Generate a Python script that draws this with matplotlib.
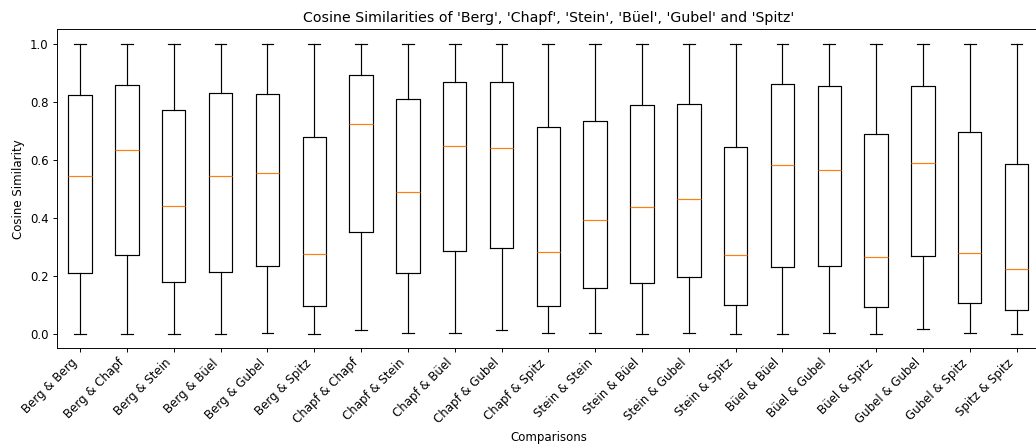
import matplotlib
matplotlib.use("Agg")
import matplotlib.pyplot as plt

labels = ["Berg & Berg", "Berg & Chapf", "Berg & Stein", "Berg & Büel", "Berg & Gubel",
          "Berg & Spitz", "Chapf & Chapf", "Chapf & Stein", "Chapf & Büel", "Chapf & Gubel",
          "Chapf & Spitz", "Stein & Stein", "Stein & Büel", "Stein & Gubel", "Stein & Spitz",
          "Büel & Büel", "Büel & Gubel", "Büel & Spitz", "Gubel & Gubel", "Gubel & Spitz",
          "Spitz & Spitz"]
medians = [0.543, 0.632, 0.442, 0.543, 0.555, 0.275, 0.725, 0.489, 0.648, 0.640, 0.283,
           0.393, 0.437, 0.466, 0.272, 0.582, 0.566, 0.263, 0.590, 0.280, 0.223]
q1 = [0.210, 0.271, 0.177, 0.214, 0.234, 0.097, 0.352, 0.210, 0.284, 0.295, 0.097,
      0.158, 0.174, 0.195, 0.100, 0.230, 0.234, 0.093, 0.267, 0.105, 0.081]
q3 = [0.822, 0.859, 0.771, 0.831, 0.826, 0.677, 0.891, 0.810, 0.868, 0.868, 0.714,
      0.734, 0.789, 0.794, 0.645, 0.863, 0.854, 0.688, 0.854, 0.696, 0.587]
whislo = [0.0, 0.0, 0.0, 0.0, 0.004, 0.0, 0.012, 0.004, 0.004, 0.012, 0.004,
          0.004, 0.0, 0.004, 0.0, 0.0, 0.004, 0.0, 0.015, 0.004, 0.0]
whishi = [1.0] * 21

stats = [dict(med=m, q1=a, q3=b, whislo=lo, whishi=hi, fliers=[], label=l)
         for l, m, a, b, lo, hi in zip(labels, medians, q1, q3, whislo, whishi)]

DPI = 85
fig = plt.figure(figsize=(1036 / DPI, 446 / DPI), dpi=DPI)
ax = fig.add_axes([56.7 / 1036, 1 - 348.2 / 446, (1040 - 56.7) / 1036, (348.2 - 29.3) / 446])
ax.bxp(stats)
ax.set_xlim(0.5, 21.5)
ax.set_ylim(-0.05, 1.05)
ax.set_xticks(range(1, 22))
ax.set_xticklabels(labels, rotation=45, ha="right")
ax.set_title("Cosine Similarities of 'Berg', 'Chapf', 'Stein', 'Büel', 'Gubel' and 'Spitz'")
ax.set_xlabel("Comparisons")
ax.set_ylabel("Cosine Similarity")
fig.savefig("out.png", dpi=DPI)
